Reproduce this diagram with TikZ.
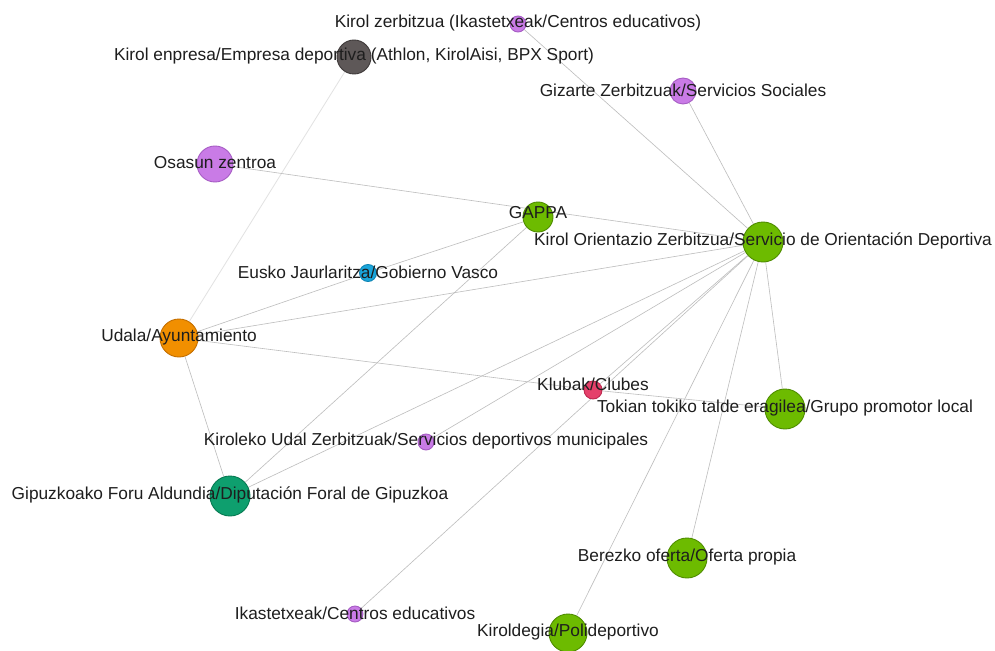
\documentclass[tikz,border=0pt]{standalone}
\usepackage{fontspec}
\setmainfont{Liberation Sans}
\usetikzlibrary{backgrounds}

% node palette
\definecolor{violetF}{HTML}{C97BE6}
\definecolor{violetD}{HTML}{A65CC4}
\definecolor{greenF}{HTML}{6DBB00}
\definecolor{greenD}{HTML}{4F8C00}
\definecolor{greyF}{HTML}{5E5858}
\definecolor{greyD}{HTML}{3E3939}
\definecolor{blueF}{HTML}{1AA6DC}
\definecolor{blueD}{HTML}{0E84B3}
\definecolor{orangeF}{HTML}{F18F00}
\definecolor{orangeD}{HTML}{C46F00}
\definecolor{redF}{HTML}{E5406A}
\definecolor{redD}{HTML}{BE284F}
\definecolor{tealF}{HTML}{0E9F6E}
\definecolor{tealD}{HTML}{077A52}
\definecolor{edgeC}{HTML}{BDBDBD}
\definecolor{edgeFaint}{HTML}{E2E2E2}
\definecolor{labelC}{HTML}{1E1E1E}

\begin{document}
\begin{tikzpicture}[x=1pt,y=-1pt,
  vertex/.style={circle,inner sep=0pt,line width=0.9pt,minimum size=#1},
  violetv/.style={vertex=#1,fill=violetF,draw=violetD},
  greenv/.style={vertex=#1,fill=greenF,draw=greenD},
  greyv/.style={vertex=#1,fill=greyF,draw=greyD},
  bluev/.style={vertex=#1,fill=blueF,draw=blueD},
  orangev/.style={vertex=#1,fill=orangeF,draw=orangeD},
  redv/.style={vertex=#1,fill=redF,draw=redD},
  tealv/.style={vertex=#1,fill=tealF,draw=tealD},
  lbl/.style={font=\fontsize{17.3}{20}\selectfont,text=labelC,inner sep=0pt,yshift=1pt},
  link/.style={draw=edgeC,line width=0.6pt},
  faintlink/.style={draw=edgeFaint,line width=0.8pt}
]
\useasboundingbox (0,0) rectangle (995,650);

% actors
\node[violetv=16] (KZ)    at (518,24)  {};
\node[greyv=34]   (KE)    at (354,57)  {};
\node[violetv=26] (GZ)    at (683,91)  {};
\node[violetv=36] (OZ)    at (215,164) {};
\node[greenv=30]  (GAPPA) at (538,217) {};
\node[greenv=40]  (KOZ)   at (763,242) {};
\node[bluev=17]   (EJ)    at (368,273) {};
\node[orangev=38] (UA)    at (179,338) {};
\node[redv=18]    (KC)    at (593,390) {};
\node[greenv=40]  (TT)    at (785,409) {};
\node[violetv=16] (KUZ)   at (426,442) {};
\node[tealv=40]   (GFA)   at (230,496) {};
\node[greenv=40]  (BO)    at (687,558) {};
\node[violetv=16] (IK)    at (355,614) {};
\node[greenv=38]  (KP)    at (568,633) {};

% names
\node[lbl] (KZt)    at (KZ)    {Kirol zerbitzua (Ikastetxeak/Centros educativos)};
\node[lbl] (KEt)    at (KE)    {Kirol enpresa/Empresa deportiva (Athlon, KirolAisi, BPX Sport)};
\node[lbl] (GZt)    at (GZ)    {Gizarte Zerbitzuak/Servicios Sociales};
\node[lbl] (OZt)    at (OZ)    {Osasun zentroa};
\node[lbl] (GAPPAt) at (538,214) {GAPPA};
\node[lbl] (KOZt)   at (KOZ)   {Kirol Orientazio Zerbitzua/Servicio de Orientación Deportiva};
\node[lbl] (EJt)    at (EJ)    {Eusko Jaurlaritza/Gobierno Vasco};
\node[lbl] (UAt)    at (UA)    {Udala/Ayuntamiento};
\node[lbl] (KCt)    at (593,385) {Klubak/Clubes};
\node[lbl] (TTt)    at (TT)    {Tokian tokiko talde eragilea/Grupo promotor local};
\node[lbl] (KUZt)   at (KUZ)   {Kiroleko Udal Zerbitzuak/Servicios deportivos municipales};
\node[lbl] (GFAt)   at (GFA)   {Gipuzkoako Foru Aldundia/Diputación Foral de Gipuzkoa};
\node[lbl] (BOt)    at (BO)    {Berezko oferta/Oferta propia};
\node[lbl] (IKt)    at (IK)    {Ikastetxeak/Centros educativos};
\node[lbl] (KPt)    at (KP)    {Kiroldegia/Polideportivo};

% relations, kept under the actors
\begin{scope}[on background layer]
  \fill[white] (0,0) rectangle (995,650);
  \draw[faintlink] (KE) -- (UA);
  \draw[link] (KZ) -- (KOZ);
  \draw[link] (GZ) -- (KOZ);
  \draw[link] (OZ) -- (KOZ);
  \draw[link] (EJ) -- (GAPPA);
  \draw[link] (GAPPA) -- (GFA);
  \draw[link] (UA) -- (EJ);
  \draw[link] (UA) -- (KOZ);
  \draw[link] (UA) -- (KC);
  \draw[link] (KC) -- (TT);
  \draw[link] (UA) -- (GFA);
  \draw[link] (KOZ) -- (GFA);
  \draw[link] (KOZ) -- (KUZ);
  \draw[link] (KOZ) -- (KC);
  \draw[link] (KOZ) -- (IK);
  \draw[link] (KOZ) -- (KP);
  \draw[link] (KOZ) -- (BO);
  \draw[link] (KOZ) -- (TT);
\end{scope}
\end{tikzpicture}
\end{document}
